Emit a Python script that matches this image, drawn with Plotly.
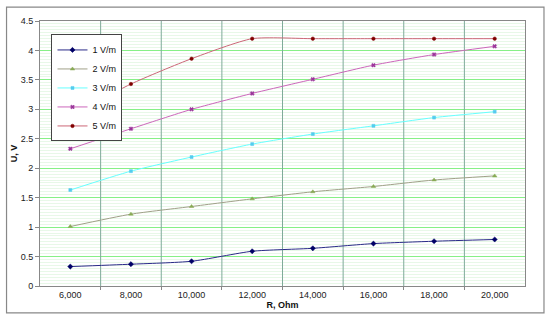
import plotly.graph_objects as go

resistance = [6000, 8000, 10000, 12000, 14000, 16000, 18000, 20000]
x_tick_labels = ["6,000", "8,000", "10,000", "12,000", "14,000", "16,000", "18,000", "20,000"]
series_names = ["1 V/m", "2 V/m", "3 V/m", "4 V/m", "5 V/m"]
u_1 = [0.33, 0.37, 0.42, 0.59, 0.64, 0.72, 0.76, 0.79]
u_2 = [1.01, 1.22, 1.35, 1.48, 1.60, 1.69, 1.80, 1.87]
u_3 = [1.63, 1.95, 2.19, 2.41, 2.58, 2.72, 2.86, 2.96]
u_4 = [2.33, 2.67, 3.00, 3.27, 3.51, 3.75, 3.93, 4.07]
u_5 = [2.88, 3.43, 3.86, 4.20, 4.20, 4.20, 4.20, 4.20]
y_tick_vals = [0, 0.5, 1, 1.5, 2, 2.5, 3, 3.5, 4, 4.5]
y_tick_labels = ["0", "0.5", "1", "1.5", "2", "2.5", "3", "3.5", "4", "4.5"]
x_grid_vals = [7000, 9000, 11000, 13000, 15000, 17000, 19000]

styles = [
    dict(line="#2a2a88", marker="#000066", symbol="diamond", size=4),
    dict(line="#a0a088", marker="#88aa55", symbol="triangle-up", size=4),
    dict(line="#66ffff", marker="#55ccee", symbol="square", size=3),
    dict(line="#cc66bb", marker="#993399", symbol="x", size=3.5),
    dict(line="#cc6677", marker="#800000", symbol="circle", size=3.5),
]

fig = go.Figure()

# vertical category-boundary gridlines (drawn first, above the horizontal grid, below series)
y_lo, y_hi = min(y_tick_vals), max(y_tick_vals)
gx_pts, gy_pts = [], []
for gx in x_grid_vals:
    gx_pts += [gx, gx, None]
    gy_pts += [y_lo, y_hi, None]
fig.add_trace(go.Scatter(x=gx_pts, y=gy_pts, mode="lines", showlegend=False,
                         hoverinfo="skip", line=dict(color="#7faa9a", width=1)))

for name, ys, st in zip(series_names, [u_1, u_2, u_3, u_4, u_5], styles):
    fig.add_trace(go.Scatter(
        x=resistance, y=ys, name=name, mode="lines+markers",
        line=dict(color=st["line"], width=1, shape="spline", smoothing=0.6),
        marker=dict(color=st["marker"], symbol=st["symbol"], size=st["size"],
                    line=dict(width=0.5, color=st["marker"])),
    ))

# plot area: x 39.5..525, y 20.5..286.5
L, R, T, B = 39.5, 525, 20.5, 286.5
W, H = 550, 321
pw, ph = R - L, B - T

fig.update_layout(
    width=W, height=H,
    margin=dict(l=L, r=W - R, t=T, b=H - B, pad=0, autoexpand=False),
    paper_bgcolor="white", plot_bgcolor="white",
    font=dict(family="Liberation Sans, Arial, sans-serif", size=9, color="#222"),
    showlegend=True,
    legend=dict(
        x=(51 - L) / pw, y=(B - 34) / ph, xanchor="left", yanchor="top",
        bgcolor="white", bordercolor="#444", borderwidth=1,
        font=dict(size=9, color="#111"), itemwidth=30, tracegroupgap=0,
    ),
    xaxis=dict(
        range=[5000, 21000], tickmode="array", tickvals=resistance, ticktext=x_tick_labels,
        showgrid=False, zeroline=False, showline=True, linecolor="#888", linewidth=1,
        mirror=True, ticks="", tickfont=dict(size=9, color="#222"), automargin=False,
        minor=dict(tickmode="array", tickvals=x_grid_vals, showgrid=False,
                   ticks="outside", ticklen=3, tickcolor="#888"),
        title=dict(text="<b>R, Ohm</b>", font=dict(size=9, color="#111"), standoff=2),
    ),
    yaxis=dict(
        range=[0, 4.5], tickmode="array", tickvals=y_tick_vals, ticktext=y_tick_labels,
        showgrid=True, gridcolor="#86f086", gridwidth=1.3, zeroline=False,
        showline=True, linecolor="#888", linewidth=1, mirror=True, automargin=False,
        ticks="outside", ticklen=4, tickcolor="#888", tickfont=dict(size=9, color="#222"),
        minor=dict(dtick=0.05, showgrid=True, gridcolor="#e8f8e8", gridwidth=1, ticks=""),
        title=dict(text="<b>U, V</b>", font=dict(size=9, color="#111"), standoff=1),
    ),
)

# outer chart border
fig.add_shape(type="rect", xref="paper", yref="paper",
              x0=(6 - L) / pw, x1=(544 - L) / pw, y0=(B - 313.5) / ph, y1=(B - 6.5) / ph,
              line=dict(color="#888", width=1.2), fillcolor="rgba(0,0,0,0)", layer="below")

fig.write_html("out.html", config={"displayModeBar": False},
               post_script="document.body.style.margin='0';")
